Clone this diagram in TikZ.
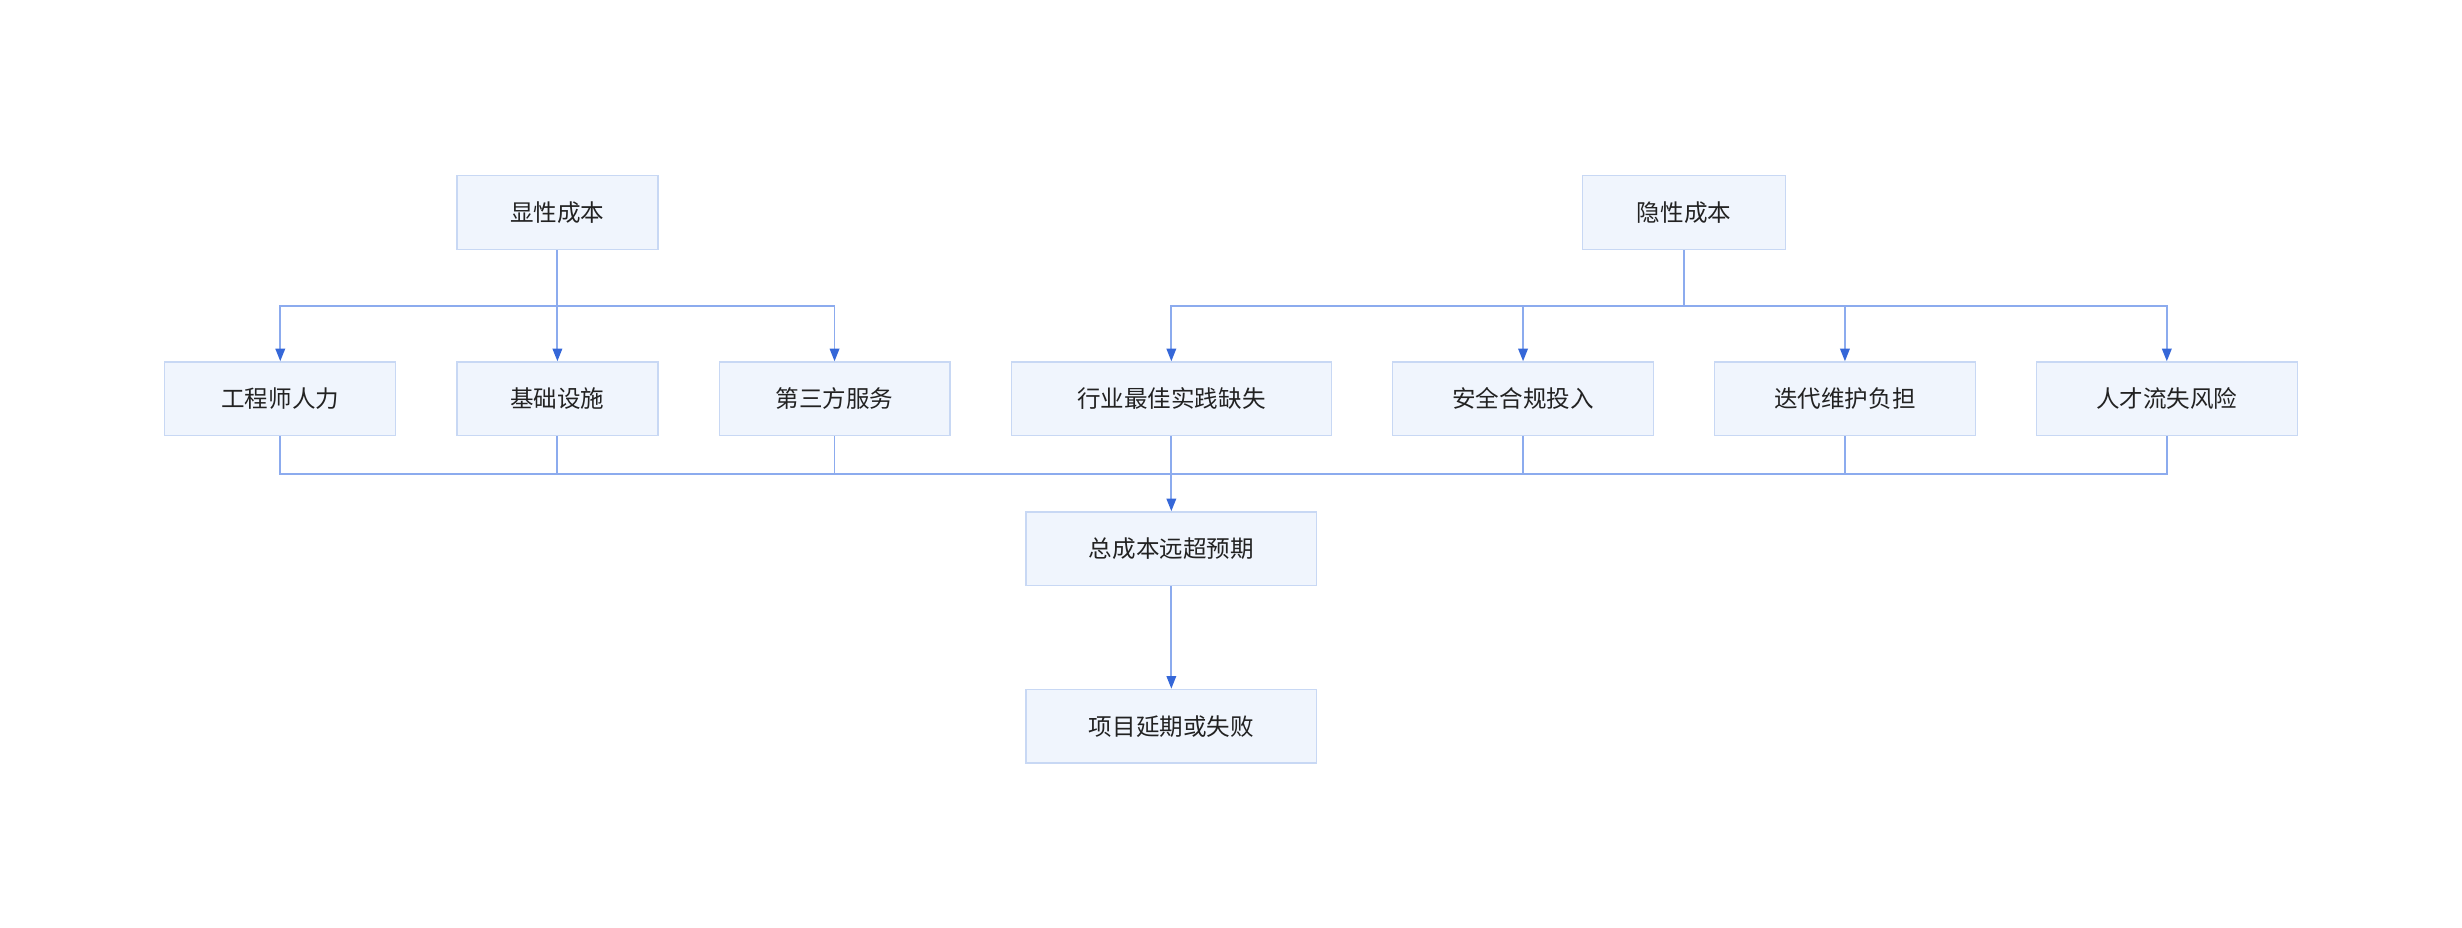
\documentclass[tikz,border=0pt]{standalone}
\usepackage{fontspec}
\setmainfont{Noto Sans CJK SC}
\usetikzlibrary{arrows.meta}
\definecolor{boxfill}{HTML}{F0F5FD}
\definecolor{boxdraw}{HTML}{C8D8F4}
\definecolor{linec}{HTML}{8CABEE}
\definecolor{tipc}{HTML}{3567D8}
\definecolor{txt}{HTML}{222222}
\begin{document}
\begin{tikzpicture}[x=1pt,y=-1pt,
  box/.style={draw=boxdraw,fill=boxfill,line width=0.8pt,minimum height=47pt,text=txt,font=\fontsize{15}{18}\selectfont,inner sep=0pt},
  ln/.style={draw=linec,line width=1.2pt},
  arr/.style={ln,-{Triangle[length=8pt,width=6pt,color=tipc]}}]
\useasboundingbox (0,0) rectangle (1568,591);
\node[box,minimum width=128pt] (xs) at (355,135.5) {显性成本};
\node[box,minimum width=129pt] (ys) at (1072.5,135.5) {隐性成本};
\node[box,minimum width=147pt] (a) at (178.5,254) {工程师人力};
\node[box,minimum width=128pt] (b) at (355,254) {基础设施};
\node[box,minimum width=147pt] (c) at (531.5,254) {第三方服务};
\node[box,minimum width=204pt] (d) at (746,254) {行业最佳实践缺失};
\node[box,minimum width=166pt] (e) at (970,254) {安全合规投入};
\node[box,minimum width=166pt] (f) at (1175,254) {迭代维护负担};
\node[box,minimum width=166pt] (g) at (1380,254) {人才流失风险};
\node[box,minimum width=185pt] (t) at (746,349.5) {总成本远超预期};
\node[box,minimum width=185pt] (p) at (746,462.5) {项目延期或失败};
\foreach \n in {a,b,c} \draw[arr] (xs.south) |- (\n.north |- 0,195) -- (\n.north);
\foreach \n in {d,e,f,g} \draw[arr] (ys.south) |- (\n.north |- 0,195) -- (\n.north);
\foreach \n in {a,b,c,d,e,f,g} \draw[ln] (\n.south) |- (746,302);
\draw[arr] (746,302) -- (t.north);
\draw[arr] (t.south) -- (p.north);
\end{tikzpicture}
\end{document}
